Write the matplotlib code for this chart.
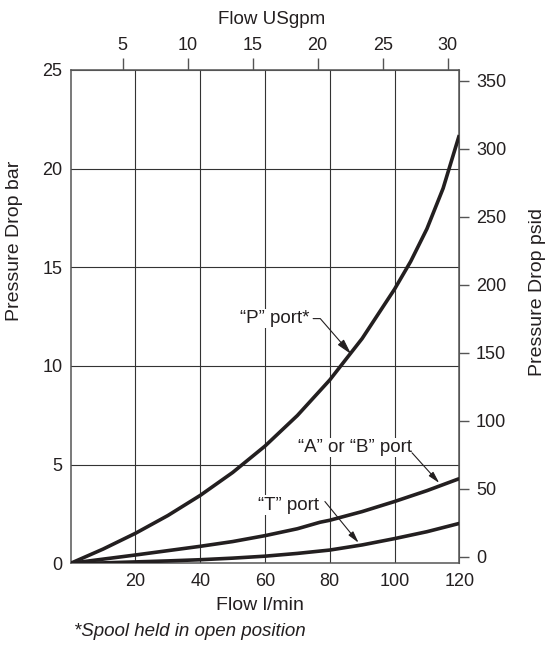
import numpy as np
import matplotlib.pyplot as plt

plt.rcParams['font.family'] = ['Liberation Sans', 'DejaVu Sans']

# pressure drop vs flow
flow_p = [0, 10, 20, 30, 40, 50, 60, 70, 80, 90, 100, 105, 110, 115, 120]
p_port = [0, 0.72, 1.52, 2.42, 3.44, 4.6, 5.94, 7.49, 9.29, 11.39, 13.89, 15.3, 16.95, 19.0, 21.7]

flow_ab = [0, 10, 20, 30, 40, 50, 60, 70, 77, 80, 90, 100, 110, 120]
ab_port = [0, 0.21, 0.42, 0.64, 0.86, 1.1, 1.4, 1.75, 2.08, 2.18, 2.62, 3.13, 3.68, 4.29]

flow_t = [0, 10, 20, 30, 40, 50, 60, 70, 80, 90, 100, 110, 120]
t_port = [0, 0.02, 0.07, 0.12, 0.18, 0.26, 0.36, 0.5, 0.67, 0.93, 1.25, 1.6, 2.02]

x_ticks = [20, 40, 60, 80, 100, 120]
x_grid = [20, 40, 60, 80, 100]
y_ticks = [0, 5, 10, 15, 20, 25]
gpm_ticks = [5, 10, 15, 20, 25, 30]
psi_ticks = [0, 50, 100, 150, 200, 250, 300, 350]

# secondary scales as they are drawn on the reference
GPM_SCALE, GPM_SHIFT = 4.013, -4.0
PSI_PER_BAR, PSI_ZERO = 14.5038, 0.33

ink = '#231f20'
frame = '#555555'

fig = plt.figure(figsize=(5.49, 6.45), dpi=100)
ax = fig.add_axes([0.1288, 0.1267, 0.7078, 0.7648])

for v in x_grid:
    ax.axvline(v, color='#333333', lw=0.8, zorder=1)
for v in y_ticks[1:-1]:
    ax.axhline(v, color='#333333', lw=0.8, zorder=1)

ax.plot(flow_p, p_port, color=ink, lw=2.6, solid_capstyle='butt', zorder=3)
ax.plot(flow_ab, ab_port, color=ink, lw=2.6, solid_capstyle='butt', zorder=3)
ax.plot(flow_t, t_port, color=ink, lw=2.6, solid_capstyle='butt', zorder=3)

ax.set_xlim(0, 120)
ax.set_ylim(0, 25)
ax.set_xticks(x_ticks)
ax.set_yticks(y_ticks)
ax.tick_params(axis='both', length=0, labelsize=13, colors=ink)
ax.tick_params(axis='x', pad=7)
ax.tick_params(axis='y', pad=6)
for s in ax.spines.values():
    s.set_color(frame)
    s.set_linewidth(1.1)

top = ax.secondary_xaxis('top', functions=(lambda q: (q - GPM_SHIFT) / GPM_SCALE,
                                           lambda g: g * GPM_SCALE + GPM_SHIFT))
top.set_xticks(gpm_ticks)
top.tick_params(length=8.5, width=1, color=frame, labelcolor=ink, labelsize=13, pad=3)
top.spines['top'].set_color(frame)

right = ax.secondary_yaxis('right', functions=(lambda b: (b - PSI_ZERO) * PSI_PER_BAR,
                                               lambda p: p / PSI_PER_BAR + PSI_ZERO))
right.set_yticks(psi_ticks)
right.tick_params(length=7, width=1, color=frame, labelcolor=ink, labelsize=13, pad=5)
right.spines['right'].set_color(frame)

box = dict(facecolor='white', edgecolor='none', pad=1)
head = dict(arrowstyle='-|>,head_length=0.7,head_width=0.18', color=ink, lw=0.8,
            shrinkA=0, shrinkB=0)

ax.annotate('\u201cP\u201d port*', xy=(86.6, 10.6), xytext=(73.6, 12.4),
            ha='right', va='center', fontsize=13.5, color=ink, bbox=box, zorder=4,
            arrowprops=dict(head, connectionstyle='angle,angleA=0,angleB=-49,rad=0',
                            shrinkA=2))

ax.text(87.9, 5.86, '\u201cA\u201d or \u201cB\u201d port', ha='center', va='center',
        fontsize=13.5, color=ink, bbox=box, zorder=2)
ax.annotate('', xy=(113.8, 4.07), xytext=(105.4, 5.6), arrowprops=head, zorder=4)

ax.text(67.3, 2.95, '\u201cT\u201d port', ha='center', va='center',
        fontsize=13.5, color=ink, bbox=box, zorder=2)
ax.annotate('', xy=(88.9, 1.04), xytext=(78.5, 3.13), arrowprops=head, zorder=4)

fig.text(15 / 549, 1 - 241 / 645, 'Pressure Drop bar', rotation=90,
         ha='center', va='center', fontsize=14, color=ink)
fig.text(537 / 549, 1 - 292 / 645, 'Pressure Drop psid', rotation=90,
         ha='center', va='center', fontsize=14, color=ink)
fig.text(272 / 549, 1 - 20 / 645, 'Flow USgpm', ha='center', va='center',
         fontsize=13.5, color=ink)
fig.text(260 / 549, 1 - 605 / 645, 'Flow l/min', ha='center', va='center',
         fontsize=14, color=ink)
fig.text(74 / 549, 1 - 631 / 645, '*Spool held in open position', ha='left',
         va='center', fontsize=13.5, style='italic', color=ink)

fig.savefig('out.png', dpi=100)
